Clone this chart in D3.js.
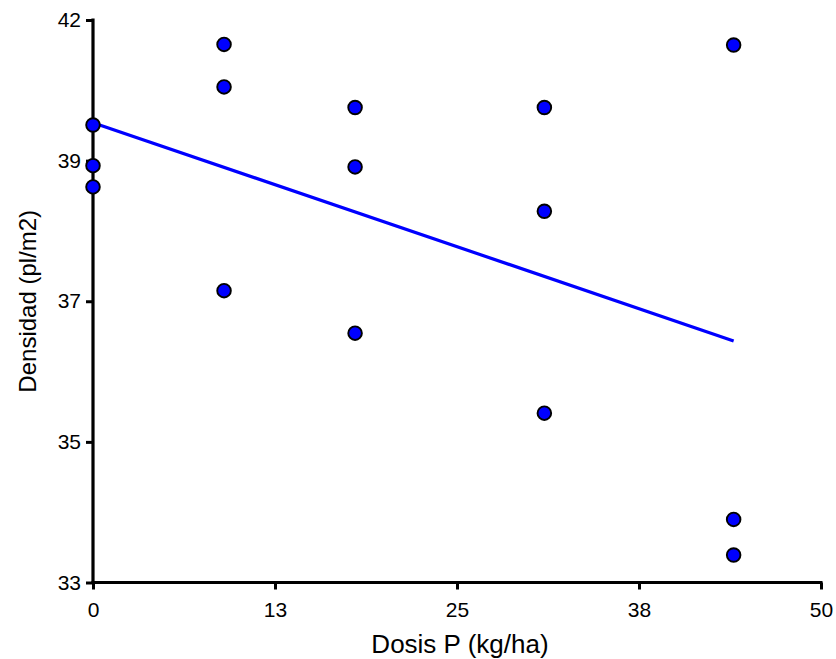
<!DOCTYPE html>
<html>
<head>
<meta charset="utf-8">
<script src="https://cdn.jsdelivr.net/npm/d3@7"></script>
<style>
  body { margin: 0; background: #fff; }
  svg text { font-family: Arial, "Liberation Sans", sans-serif; fill: #000; }
</style>
</head>
<body>
<div id="canvas"></div>
<script>
// dose (kg/ha) and plant density (pl/m2)
const dosis = [0, 0, 0, 9, 9, 9, 18, 18, 18, 31, 31, 31, 44, 44, 44];
const densidad = [40.32, 39.67, 39.33, 41.61, 40.93, 37.67, 40.60, 39.65, 36.99,
                  40.60, 38.94, 35.71, 41.60, 34.01, 33.44];

const xTicks = [0, 12.5, 25, 37.5, 50];
const xTickLabels = ["0", "13", "25", "38", "50"];
const yTicks = [33, 35.25, 37.5, 39.75, 42];
const yTickLabels = ["33", "35", "37", "39", "42"];

const width = 836;
const height = 659;
const margin = { top: 20, left: 93, bottom: 76.5, right: 15 };
const iwidth = width - margin.left - margin.right;
const iheight = height - margin.top - margin.bottom;

const svg = d3.select("#canvas").append("svg")
  .attr("width", width)
  .attr("height", height);

const g = svg.append("g").attr("transform", `translate(${margin.left},${margin.top})`);

const x = d3.scaleLinear().domain([0, 50]).range([0, iwidth]);
const y = d3.scaleLinear().domain([33, 42]).range([iheight, 0]);

// least squares fit through the points
const mx = d3.mean(dosis), my = d3.mean(densidad);
let sxy = 0, sxx = 0;
dosis.forEach((d, i) => { sxy += (d - mx) * (densidad[i] - my); sxx += (d - mx) * (d - mx); });
const slope = sxy / sxx;
const intercept = my - slope * mx;
const fitX = d3.extent(dosis);

const xAxis = g.append("g")
  .attr("transform", `translate(0,${iheight})`)
  .call(d3.axisBottom(x).tickValues(xTicks).tickFormat((d, i) => xTickLabels[i])
    .tickSizeOuter(0).tickSizeInner(7).tickPadding(13));

const yAxis = g.append("g")
  .call(d3.axisLeft(y).tickValues(yTicks).tickFormat((d, i) => yTickLabels[i])
    .tickSizeOuter(0).tickSizeInner(7).tickPadding(5));

[xAxis, yAxis].forEach(a => {
  a.select(".domain").attr("stroke", "#000").attr("stroke-width", 3.2);
  a.selectAll(".tick line").attr("stroke", "#000").attr("stroke-width", 3);
  a.selectAll(".tick text").attr("font-size", 21).attr("font-family", null);
});
yAxis.select(".domain").attr("d", `M0,${iheight + 1.6}V-1.5`);
xAxis.select(".domain").attr("d", `M-1.6,0H${iwidth + 1.5}`);

g.append("line")
  .attr("x1", x(fitX[0]))
  .attr("y1", y(intercept + slope * fitX[0]))
  .attr("x2", x(fitX[1]))
  .attr("y2", y(intercept + slope * fitX[1]))
  .attr("stroke", "#0000ff")
  .attr("stroke-width", 3.2);

g.selectAll("circle").data(dosis).enter().append("circle")
  .attr("cx", d => x(d))
  .attr("cy", (d, i) => y(densidad[i]))
  .attr("r", 6.8)
  .attr("fill", "#0000ff")
  .attr("stroke", "#000")
  .attr("stroke-width", 1.9);

svg.append("text")
  .attr("x", margin.left + iwidth / 2 + 3)
  .attr("y", 653)
  .attr("text-anchor", "middle")
  .attr("font-size", 26)
  .text("Dosis P (kg/ha)");

svg.append("text")
  .attr("transform", `translate(36,${margin.top + iheight / 2}) rotate(-90)`)
  .attr("text-anchor", "middle")
  .attr("font-size", 24)
  .text("Densidad (pl/m2)");
</script>
</body>
</html>
